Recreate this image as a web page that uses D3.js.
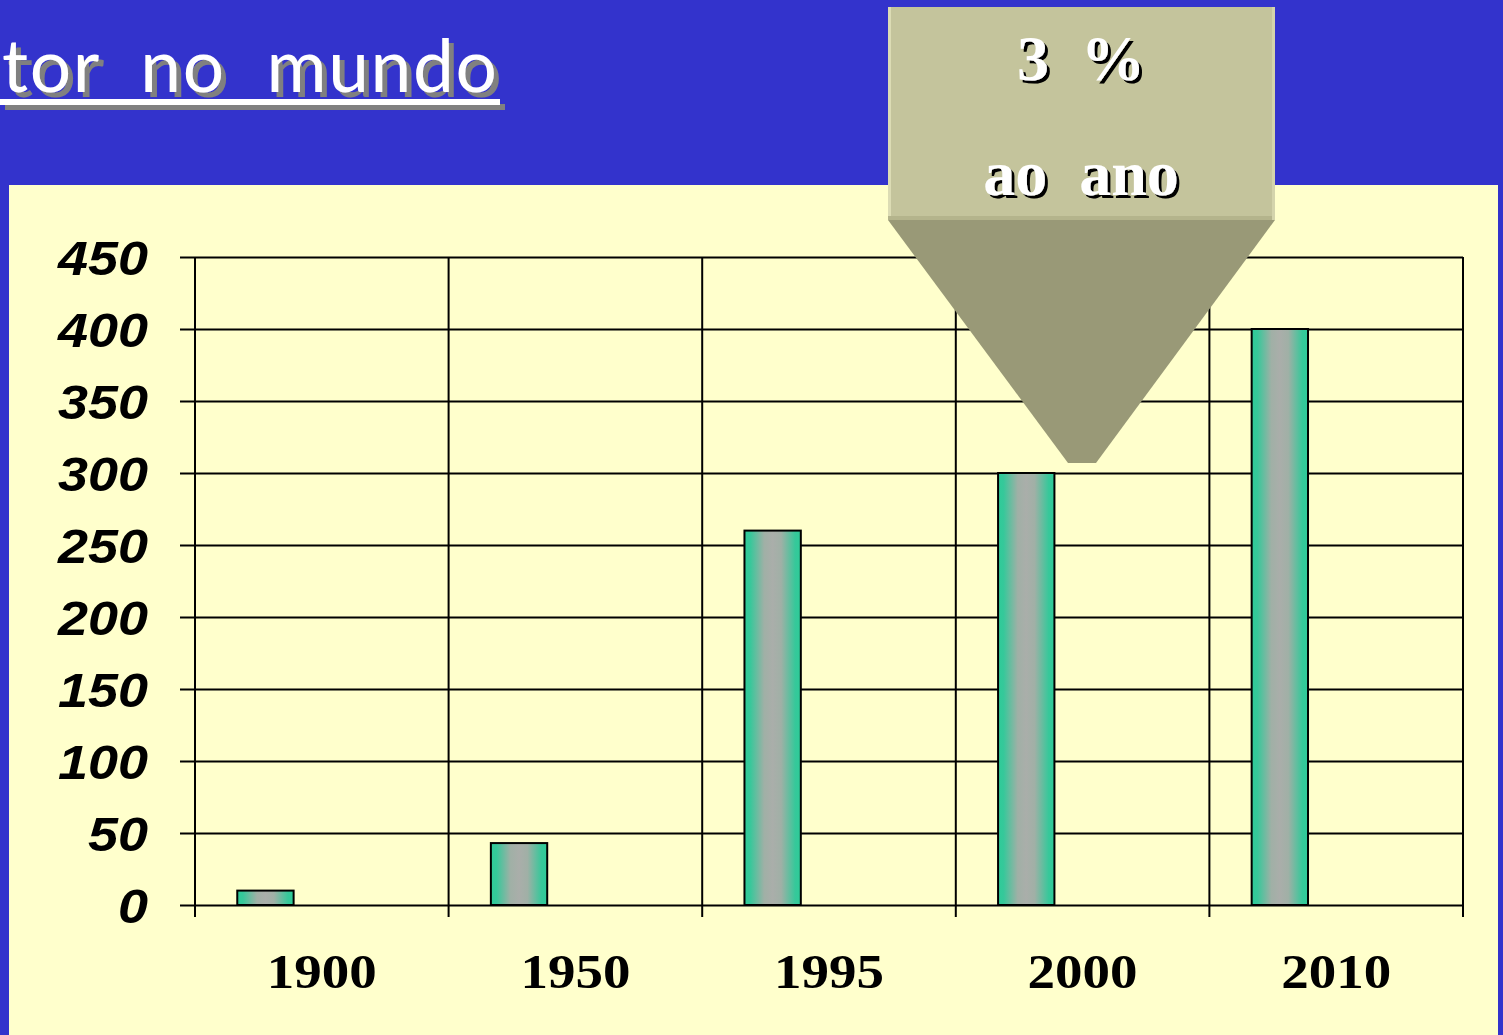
<!DOCTYPE html>
<html>
<head>
<meta charset="utf-8">
<script src="https://cdn.jsdelivr.net/npm/d3@7"></script>
<style>
  html, body { margin: 0; padding: 0; background: #3333cc; overflow: hidden; }
  .pre { white-space: pre; }
</style>
</head>
<body>
<div id="chart"></div>
<script>
(function() {
"use strict";

// chart values
const YEARS = ["1900", "1950", "1995", "2000", "2010"];
const VALUES = [10, 43, 260, 300, 400];
const Y_TICKS = [0, 50, 100, 150, 200, 250, 300, 350, 400, 450];
const SERIES_SLOTS = ["s1", "s2", "s3"];
const TITLE = "tor  no  mundo";
const CALLOUT_LINES = ["3  %", "ao  ano"];

const WIDTH = 1503;
const HEIGHT = 1035;
const LEFT = 195, RIGHT = 1463, TOP = 257, BOTTOM = 905;

const svg = d3.select("#chart")
  .append("svg")
  .attr("width", WIDTH)
  .attr("height", HEIGHT);

const defs = svg.append("defs");
const grad = defs.append("linearGradient")
  .attr("id", "barGrad")
  .attr("x1", "0%").attr("x2", "100%")
  .attr("y1", "0%").attr("y2", "0%");
[[0, "#2ecb98"], [0.1, "#36c89a"], [0.35, "#a0b0a6"], [0.5, "#aaaeaa"], [0.65, "#a0b0a6"], [0.9, "#36c89a"], [1, "#2ecb98"]]
  .forEach(s => grad.append("stop").attr("offset", s[0]).attr("stop-color", s[1]));

// drop shadows for the slide texts
const grayShadow = defs.append("filter").attr("id", "grayShadow")
  .attr("x", "-5%").attr("y", "-20%").attr("width", "115%").attr("height", "150%");
grayShadow.append("feDropShadow")
  .attr("dx", 5).attr("dy", 5).attr("stdDeviation", 0)
  .attr("flood-color", "#808080").attr("flood-opacity", 1);
const blackShadow = defs.append("filter").attr("id", "blackShadow")
  .attr("x", "-10%").attr("y", "-20%").attr("width", "125%").attr("height", "150%");
blackShadow.append("feDropShadow")
  .attr("dx", 3).attr("dy", 3).attr("stdDeviation", 0)
  .attr("flood-color", "#000").attr("flood-opacity", 1);

// background
svg.append("rect").attr("width", WIDTH).attr("height", HEIGHT).attr("fill", "#3333cc");
svg.append("rect")
  .attr("x", 9).attr("y", 185)
  .attr("width", 1489).attr("height", HEIGHT - 185)
  .attr("fill", "#ffffcc");

// title, underlined, with a gray shadow
const title = svg.append("g").attr("filter", "url(#grayShadow)");
title.append("text")
  .attr("class", "pre")
  .attr("x", 2).attr("y", 92)
  .attr("fill", "#ffffff")
  .attr("font-family", "'Comic Sans MS', Lato, sans-serif")
  .attr("font-size", 73)
  .attr("textLength", 495)
  .attr("lengthAdjust", "spacing")
  .text(TITLE);
title.append("rect").attr("x", 0).attr("y", 99).attr("width", 500).attr("height", 6).attr("fill", "#ffffff");

// scales
const x = d3.scaleBand().domain(YEARS).range([LEFT, RIGHT]);
const inner = d3.scaleBand().domain(SERIES_SLOTS).range([0, x.bandwidth()]).paddingOuter(0.75);
const y = d3.scaleLinear().domain([0, 450]).range([BOTTOM, TOP]);

// horizontal grid + left ticks
const yAxis = d3.axisLeft(y)
  .tickValues(Y_TICKS)
  .tickSize(-(RIGHT - LEFT))
  .tickPadding(0)
  .tickFormat("");
const gy = svg.append("g")
  .attr("transform", `translate(${LEFT},0)`)
  .call(yAxis);
gy.select(".domain").remove();
gy.selectAll(".tick line")
  .attr("x1", -15)
  .attr("stroke", "#000").attr("stroke-width", 2);

gy.selectAll(".tick").append("text")
  .attr("x", -47)
  .attr("dy", "0.36em")
  .attr("text-anchor", "end")
  .attr("fill", "#000")
  .attr("font-family", "'Liberation Sans', Arial, sans-serif")
  .attr("font-weight", "bold")
  .attr("font-style", "italic")
  .attr("font-size", 49)
  .attr("textLength", d => String(d).length * 30)
  .attr("lengthAdjust", "spacingAndGlyphs")
  .text(d => d);

// vertical grid lines at category boundaries
const bounds = YEARS.map(d => x(d)).concat([x(YEARS[YEARS.length - 1]) + x.bandwidth()]);
svg.append("g").selectAll("line")
  .data(bounds)
  .enter()
  .append("line")
    .attr("x1", d => d).attr("x2", d => d)
    .attr("y1", y(450)).attr("y2", BOTTOM + 12)
    .attr("stroke", "#000").attr("stroke-width", 2);

// bars
svg.append("g").selectAll("rect")
  .data(VALUES)
  .enter()
  .append("rect")
    .attr("x", (d, i) => x(YEARS[i]) + inner("s1"))
    .attr("y", d => y(d))
    .attr("width", inner.bandwidth())
    .attr("height", d => BOTTOM - y(d))
    .attr("fill", "url(#barGrad)")
    .attr("stroke", "#000").attr("stroke-width", 2);

// x labels
svg.append("g").selectAll("text")
  .data(YEARS)
  .enter()
  .append("text")
    .attr("x", d => x(d) + x.bandwidth() / 2)
    .attr("y", 988)
    .attr("text-anchor", "middle")
    .attr("font-family", "'Liberation Serif', 'Times New Roman', serif")
    .attr("font-weight", "bold")
    .attr("font-size", 48)
    .attr("textLength", 110)
    .attr("lengthAdjust", "spacingAndGlyphs")
    .attr("fill", "#000")
    .text(d => d);

// callout
const call = svg.append("g");
call.append("path")
  .attr("d", "M888,220 L1275,220 L1096,463 L1068,463 Z")
  .attr("fill", "#999977");
call.append("rect")
  .attr("x", 888).attr("y", 7)
  .attr("width", 387).attr("height", 213)
  .attr("fill", "#c4c49c");
call.append("rect").attr("x", 888).attr("y", 7).attr("width", 3).attr("height", 213).attr("fill", "#dcdcb4");
call.append("rect").attr("x", 888).attr("y", 216).attr("width", 387).attr("height", 4).attr("fill", "#b4b48c");
call.append("rect").attr("x", 1272).attr("y", 7).attr("width", 3).attr("height", 213).attr("fill", "#d4d4ac");

const callY = [80, 195];
CALLOUT_LINES.forEach((t, i) => {
  call.append("text")
    .attr("class", "pre")
    .attr("x", 1081).attr("y", callY[i])
    .attr("text-anchor", "middle")
    .attr("font-family", "'Liberation Serif', 'Times New Roman', serif")
    .attr("font-weight", "bold")
    .attr("font-size", 64)
    .attr("fill", "#fff")
    .attr("filter", "url(#blackShadow)")
    .text(t);
});

})();
</script>
</body>
</html>
